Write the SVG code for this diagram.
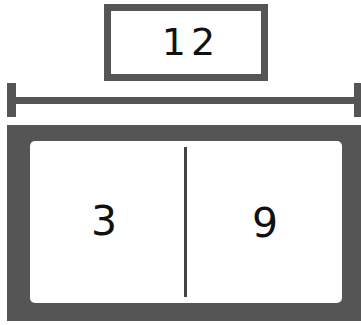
<svg xmlns="http://www.w3.org/2000/svg" width="361" height="325" viewBox="0 0 361 325">
<style>
.lbl{font-family:"DejaVu Sans","Liberation Sans",sans-serif;fill:#111;text-anchor:middle}
.dk{fill:#555}
</style>
<rect width="361" height="325" fill="#fff"/>
<g id="total">
<rect x="107.5" y="7.5" width="157" height="70" fill="#fff" stroke="#555" stroke-width="7"/>
<text class="lbl" x="191" y="55" font-size="38" letter-spacing="5">12</text>
</g>
<g id="connectors">
<rect class="dk" x="7" y="97" width="350" height="7"/>
<rect class="dk" x="7" y="83" width="9" height="34"/>
<rect class="dk" x="354" y="83" width="7" height="34"/>
</g>
<g id="bar">
<rect class="dk" x="7" y="125" width="354" height="196"/>
<rect x="30" y="141" width="312" height="162" rx="5" fill="#fff"/>
<rect x="184" y="147" width="3" height="150" fill="#444"/>
</g>
<g id="part3"><text class="lbl" x="104" y="235" font-size="41">3</text></g>
<g id="part9"><text class="lbl" x="265" y="237" font-size="41">9</text></g>
</svg>
